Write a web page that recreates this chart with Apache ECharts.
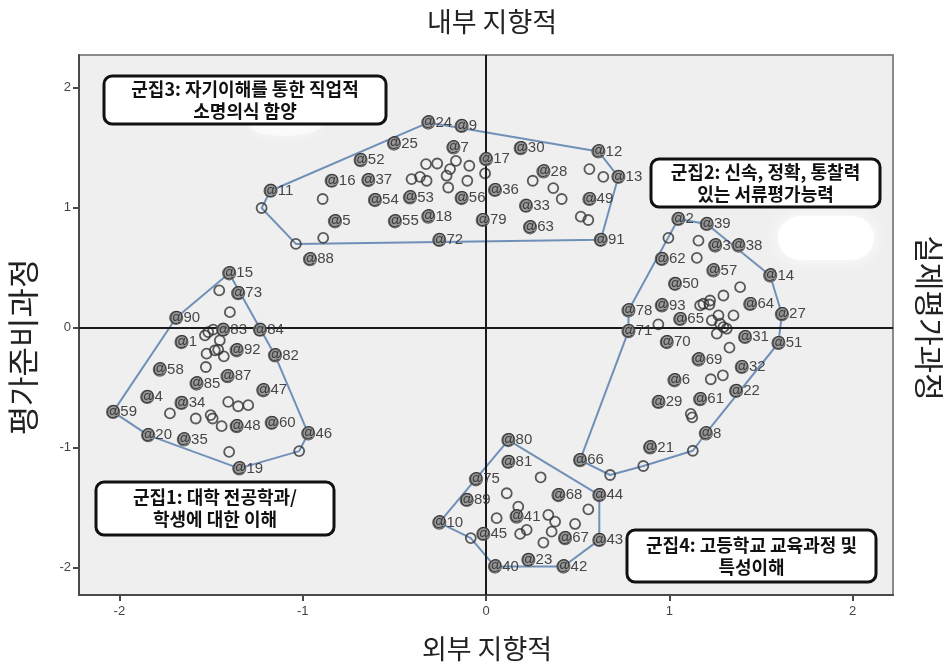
<!DOCTYPE html>
<html>
<head>
<meta charset="utf-8">
<script src="https://cdn.jsdelivr.net/npm/echarts@6/dist/echarts.min.js"></script>
<style>
  html, body { margin: 0; padding: 0; background: #ffffff; }
  #chart { width: 946px; height: 664px; }
</style>
</head>
<body>
<div id="chart"></div>
<script>
// Axis tick values
const xTicks = [-2, -1, 0, 1, 2];
const yTicks = [-2, -1, 0, 1, 2];

// Axis titles
const topTitle = '내부 지향적';
const bottomTitle = '외부 지향적';
const leftTitle = '평가준비과정';
const rightTitle = '실제평가과정';

// Cluster captions
const cluster1Caption = ['군집1: 대학 전공학과/', '학생에 대한 이해'];
const cluster2Caption = ['군집2: 신속, 정확, 통찰력', '있는 서류평가능력'];
const cluster3Caption = ['군집3: 자기이해를 통한 직업적', '소명의식 함양'];
const cluster4Caption = ['군집4: 고등학교 교육과정 및', '특성이해'];

// Numbered statements: [id, x, y]
const cluster1Named = [
  [15, -1.401, 0.451], [73, -1.352, 0.285], [90, -1.690, 0.080], [83, -1.434, -0.019],
  [84, -1.233, -0.019], [1, -1.661, -0.122], [92, -1.360, -0.191], [82, -1.151, -0.233],
  [58, -1.779, -0.352], [87, -1.410, -0.407], [85, -1.579, -0.468], [47, -1.215, -0.524],
  [4, -1.848, -0.579], [34, -1.661, -0.629], [59, -2.034, -0.704], [48, -1.360, -0.823],
  [60, -1.169, -0.795], [20, -1.843, -0.898], [35, -1.648, -0.934], [46, -0.970, -0.884],
  [19, -1.346, -1.175]
];
const cluster2Named = [
  [2, 1.049, 0.904], [39, 1.204, 0.862], [3, 1.250, 0.682], [38, 1.377, 0.682],
  [62, 0.959, 0.571], [57, 1.240, 0.474], [14, 1.550, 0.432], [50, 1.031, 0.363],
  [78, 0.777, 0.141], [93, 0.959, 0.183], [64, 1.441, 0.195], [27, 1.614, 0.110],
  [65, 1.059, 0.070], [71, 0.777, -0.031], [31, 1.413, -0.080], [51, 1.595, -0.130],
  [70, 0.986, -0.122], [69, 1.159, -0.268], [32, 1.395, -0.330], [6, 1.028, -0.441],
  [22, 1.364, -0.529], [29, 0.941, -0.621], [61, 1.168, -0.598], [8, 1.199, -0.884],
  [21, 0.895, -1.000], [66, 0.513, -1.106]
];
const cluster3Named = [
  [24, -0.315, 1.707], [9, -0.133, 1.679], [25, -0.502, 1.532], [7, -0.178, 1.499],
  [30, 0.189, 1.494], [12, 0.613, 1.466], [52, -0.684, 1.394], [17, 0.000, 1.402],
  [28, 0.313, 1.299], [13, 0.722, 1.255], [16, -0.842, 1.222], [37, -0.642, 1.228],
  [11, -1.175, 1.139], [36, 0.049, 1.145], [49, 0.564, 1.070], [54, -0.606, 1.061],
  [53, -0.415, 1.083], [56, -0.133, 1.078], [33, 0.218, 1.014], [5, -0.824, 0.884],
  [55, -0.497, 0.884], [18, -0.315, 0.923], [79, -0.018, 0.895], [63, 0.240, 0.834],
  [91, 0.626, 0.730], [72, -0.255, 0.729], [88, -0.960, 0.568]
];
const cluster4Named = [
  [80, 0.122, -0.939], [81, 0.122, -1.120], [75, -0.055, -1.266], [68, 0.395, -1.397],
  [44, 0.618, -1.397], [89, -0.105, -1.438], [41, 0.167, -1.577], [10, -0.255, -1.627],
  [45, -0.015, -1.721], [67, 0.431, -1.756], [43, 0.618, -1.771], [23, 0.231, -1.937],
  [40, 0.049, -1.993], [42, 0.422, -1.993]
];

// Unnumbered statements: [x, y]
const cluster1Plain = [
  [-1.455, 0.308], [-1.397, 0.127], [-1.515, -0.039], [-1.488, -0.019], [-1.452, -0.108],
  [-1.533, -0.066], [-1.524, -0.219], [-1.479, -0.191], [-1.430, -0.241], [-1.461, -0.185],
  [-1.528, -0.330], [-1.406, -0.621], [-1.352, -0.657], [-1.297, -0.648], [-1.724, -0.717],
  [-1.583, -0.759], [-1.502, -0.731], [-1.491, -0.759], [-1.442, -0.823], [-1.401, -1.037],
  [-1.019, -1.031]
];
const cluster2Plain = [
  [0.995, 0.746], [1.159, 0.723], [1.150, 0.580], [1.386, 0.335], [1.295, 0.266],
  [1.222, 0.224], [1.186, 0.197], [1.168, 0.183], [1.219, 0.191], [0.940, 0.025],
  [1.232, 0.058], [1.268, 0.100], [1.350, 0.100], [1.259, -0.052], [1.295, 0.002],
  [1.277, 0.031], [1.313, -0.011], [1.328, -0.169], [1.226, -0.432], [1.292, -0.399],
  [1.117, -0.720], [1.125, -0.750], [1.128, -1.028], [0.858, -1.155], [0.677, -1.230]
];
const cluster3Plain = [
  [-1.224, 0.995], [-1.037, 0.696], [-0.888, 0.746], [-0.891, 1.070], [-0.327, 1.361],
  [-0.266, 1.366], [-0.164, 1.388], [-0.091, 1.347], [-0.406, 1.236], [-0.360, 1.255],
  [-0.324, 1.222], [-0.215, 1.264], [-0.206, 1.166], [-0.102, 1.222], [-0.005, 1.283],
  [-0.196, 1.319], [0.255, 1.222], [0.367, 1.161], [0.413, 1.070], [0.564, 1.319],
  [0.640, 1.255], [0.517, 0.923], [0.558, 0.895]
];
const cluster4Plain = [
  [0.298, -1.249], [0.113, -1.382], [0.176, -1.494], [0.558, -1.516], [0.340, -1.563],
  [0.377, -1.618], [0.058, -1.590], [0.486, -1.638], [0.358, -1.702], [0.222, -1.687],
  [0.186, -1.721], [-0.083, -1.756], [0.313, -1.793]
];

// Hull outlines: numbers refer to numbered statements, 'uN' to the Nth unnumbered one
const cluster1Hull = [15, 90, 59, 20, 19, 'u20', 46, 82, 15];
const cluster2Hull = [2, 39, 14, 27, 51, 8, 'u22', 'u23', 'u24', 66, 71, 78, 2];
const cluster3Hull = [24, 12, 13, 91, 'u1', 'u0', 11, 24];
const cluster4Hull = [80, 44, 43, 42, 40, 'u11', 10, 80];

const clusters = [
  { named: cluster1Named, plain: cluster1Plain, hull: cluster1Hull },
  { named: cluster2Named, plain: cluster2Plain, hull: cluster2Hull },
  { named: cluster3Named, plain: cluster3Plain, hull: cluster3Hull },
  { named: cluster4Named, plain: cluster4Plain, hull: cluster4Hull }
];

function hullPath(c) {
  return c.hull.map(function (ref) {
    if (typeof ref === 'string') {
      const p = c.plain[parseInt(ref.slice(1), 10)];
      return [p[0], p[1]];
    }
    const n = c.named.find(function (r) { return r[0] === ref; });
    return [n[1], n[2]];
  });
}

const KR = '"Noto Sans CJK KR", "Noto Sans", sans-serif';
const LAT = '"Liberation Sans", Arial, sans-serif';

const series = [];

clusters.forEach(function (c) {
  series.push({
    type: 'line',
    data: hullPath(c),
    symbol: 'none',
    silent: true,
    z: 2,
    lineStyle: { color: '#7090b8', width: 2 }
  });
});

// Reference lines through the origin
series.push({
  type: 'scatter',
  data: [],
  z: 3,
  markLine: {
    silent: true,
    symbol: 'none',
    label: { show: false },
    lineStyle: { color: '#1a1a1a', width: 2, type: 'solid' },
    data: [{ xAxis: 0 }, { yAxis: 0 }]
  }
});

series.push({
  type: 'scatter',
  data: clusters.reduce(function (acc, c) { return acc.concat(c.plain); }, []),
  symbol: 'circle',
  symbolSize: 10,
  z: 4,
  itemStyle: { color: 'rgba(0,0,0,0)', borderColor: '#333333', borderWidth: 1.8 }
});

series.push({
  type: 'scatter',
  data: clusters.reduce(function (acc, c) {
    return acc.concat(c.named.map(function (r) { return [r[1], r[2], r[0]]; }));
  }, []),
  encode: { x: 0, y: 1 },
  symbol: 'circle',
  symbolSize: 13,
  z: 5,
  itemStyle: { color: '#8e8e8e', borderColor: '#5a5a5a', borderWidth: 1.2, opacity: 0.9 },
  label: {
    show: true,
    position: 'inside',
    align: 'left',
    verticalAlign: 'middle',
    offset: [-7, 0],
    formatter: function (p) { return '{a|@}{n|' + p.data[2] + '}'; },
    rich: {
      a: { fontFamily: LAT, fontSize: 14, color: '#2e2e2e' },
      n: { fontFamily: LAT, fontSize: 15, color: '#333333' }
    }
  }
});

function caption(lines, x, y, w, h) {
  return [
    {
      type: 'rect', z: 20,
      shape: { x: x, y: y, width: w, height: h, r: 8 },
      style: { fill: '#ffffff', stroke: '#111111', lineWidth: 3 }
    },
    {
      type: 'text', z: 21,
      x: x + w / 2, y: y + h / 2,
      style: {
        text: lines.join('\n'),
        fontFamily: KR, fontSize: 18, fontWeight: 'bold',
        fill: '#111111', align: 'center', verticalAlign: 'middle', lineHeight: 22
      }
    }
  ];
}

const graphics = [].concat(
  [
    { // soft white patches on the plot background
      type: 'rect', z: 1, silent: true,
      shape: { x: 778, y: 216, width: 96, height: 44, r: 22 },
      style: { fill: 'rgba(255,255,255,0.95)', shadowBlur: 18, shadowColor: '#ffffff' }
    },
    {
      type: 'ellipse', z: 1, silent: true,
      shape: { cx: 285, cy: 126, rx: 36, ry: 10 },
      style: { fill: 'rgba(255,255,255,0.55)', shadowBlur: 14, shadowColor: '#ffffff' }
    },
    {
      type: 'text', x: 492, y: 22,
      style: { text: topTitle, fontFamily: KR, fontSize: 27, fill: '#222', align: 'center', verticalAlign: 'middle' }
    },
    {
      type: 'text', x: 487, y: 649,
      style: { text: bottomTitle, fontFamily: KR, fontSize: 27, fill: '#222', align: 'center', verticalAlign: 'middle' }
    },
    {
      type: 'text', x: 23, y: 347, rotation: Math.PI / 2,
      style: { text: leftTitle, fontFamily: KR, fontSize: 32, fill: '#222', align: 'center', verticalAlign: 'middle' }
    },
    {
      type: 'text', x: 929, y: 318, rotation: -Math.PI / 2,
      style: { text: rightTitle, fontFamily: KR, fontSize: 30, fill: '#222', align: 'center', verticalAlign: 'middle' }
    }
  ],
  caption(cluster3Caption, 104, 76, 282, 48),
  caption(cluster2Caption, 651, 159, 229, 48),
  caption(cluster1Caption, 96, 482, 238, 53),
  caption(cluster4Caption, 627, 530, 249, 52)
);

const chart = echarts.init(document.getElementById('chart'), null, { renderer: 'canvas' });
chart.setOption({
  animation: false,
  backgroundColor: '#ffffff',
  grid: {
    left: 79, right: 53, top: 55, bottom: 69,
    show: true, backgroundColor: '#efefef', borderColor: '#8a8a8a', borderWidth: 2
  },
  xAxis: {
    type: 'value', min: -2.22, max: 2.22,
    splitLine: { show: false },
    axisLine: { onZero: false, lineStyle: { color: '#4a4a4a', width: 2 } },
    axisTick: { show: true, length: 6, customValues: xTicks, lineStyle: { color: '#4a4a4a', width: 2 } },
    axisLabel: { customValues: xTicks, color: '#444', fontFamily: LAT, fontSize: 13, margin: 10 }
  },
  yAxis: {
    type: 'value', min: -2.23, max: 2.27,
    splitLine: { show: false },
    axisLine: { onZero: false, lineStyle: { color: '#4a4a4a', width: 2 } },
    axisTick: { show: true, length: 6, customValues: yTicks, lineStyle: { color: '#4a4a4a', width: 2 } },
    axisLabel: { customValues: yTicks, color: '#444', fontFamily: LAT, fontSize: 13, margin: 8 }
  },
  series: series,
  graphic: graphics
});
</script>
</body>
</html>
